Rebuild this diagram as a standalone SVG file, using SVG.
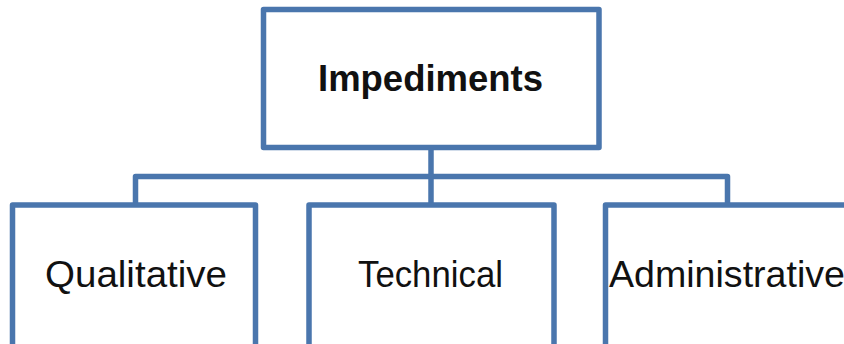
<svg xmlns="http://www.w3.org/2000/svg" width="844" height="344" viewBox="0 0 844 344">
  <style>
    .box { fill: #ffffff; stroke: #4a76ad; stroke-width: 5.5; stroke-linejoin: round; }
    .link { fill: none; stroke: #4a76ad; stroke-width: 5.5; stroke-linejoin: round; }
    .label { font-family: "Liberation Sans", Arial, sans-serif; font-size: 37px; fill: #111111; }
    .title { font-weight: bold; }
  </style>
  <rect width="844" height="344" fill="#ffffff"/>
  <g id="connectors">
    <path class="link" d="M431 150 V176.5"/>
    <path class="link" d="M135.5 205 V176.5 H727.5 V205"/>
    <path class="link" d="M431 176.5 V205"/>
  </g>
  <g id="impediments">
    <rect class="box" x="263.5" y="9.5" width="335.5" height="138"/>
    <text class="label title" x="318" y="91" textLength="225" lengthAdjust="spacingAndGlyphs">Impediments</text>
  </g>
  <g id="qualitative">
    <rect class="box" x="12.5" y="205" width="243" height="150"/>
    <text class="label" x="45" y="287" textLength="182" lengthAdjust="spacingAndGlyphs">Qualitative</text>
  </g>
  <g id="technical">
    <rect class="box" x="309" y="205" width="245" height="150"/>
    <text class="label" x="358" y="287" textLength="145" lengthAdjust="spacingAndGlyphs">Technical</text>
  </g>
  <g id="administrative">
    <rect class="box" x="605.5" y="205" width="246" height="150"/>
    <text class="label" x="609" y="287" textLength="236" lengthAdjust="spacingAndGlyphs">Administrative</text>
  </g>
</svg>
